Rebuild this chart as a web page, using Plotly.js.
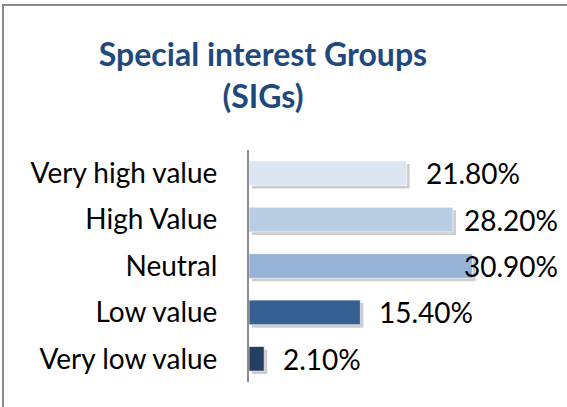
<!DOCTYPE html>
<html>
<head>
<meta charset="utf-8">
<script src="https://cdn.plot.ly/plotly-3.0.1.min.js"></script>
<style>body{margin:0;background:#fff}</style>
</head>
<body>
<div id="chart" style="width:567px;height:407px"></div>
<script>
let graph = document.getElementById('chart');

// data
let categories = ['Very high value', 'High Value', 'Neutral', 'Low value', 'Very low value'];
let values = [21.8, 28.2, 30.9, 15.4, 2.1];
let valueLabels = ['21.80%', '28.20%', '30.90%', '15.40%', '2.10%'];
let barColors = ['#dce6f2', '#b9cde5', '#95b3d7', '#366092', '#243f60'];

// frame of the plot area, in pixels
let W = 567, H = 407;
let plotLeft = 249, plotRight = 560, plotTop = 150, plotBottom = 382;
let xMax = 43;
let pxPerUnit = (plotRight - plotLeft) / xMax;
let pxPerCat = (plotBottom - plotTop) / categories.length;

// shadow offset (pixels) turned into axis units
let sx = 3 / pxPerUnit;
let sy = 3 / pxPerCat;

let labelFont = 'Lato';
let labelSize = 28;

// push a label left when it would run past the right edge of the chart
let ctx = document.createElement('canvas').getContext('2d');
ctx.font = labelSize + 'px ' + labelFont;
let labelLimit = 556;
let annotations = values.map(function(v, i) {
    let tw = ctx.measureText(valueLabels[i]).width;
    let barEnd = plotLeft + v * pxPerUnit;
    let shift = Math.min(17, labelLimit - tw - barEnd);
    return {
        xref: 'x2', yref: 'y2',
        x: v, y: categories[i],
        text: valueLabels[i],
        showarrow: false,
        xanchor: 'left',
        xshift: shift,
        font: {family: labelFont, size: labelSize, color: '#000'}
    };
});

let data = [{
    type: 'bar',
    orientation: 'h',
    x: values,
    y: categories,
    xaxis: 'x', yaxis: 'y',
    marker: {color: 'rgba(90,90,90,0.3)'},
    hoverinfo: 'skip'
}, {
    type: 'bar',
    orientation: 'h',
    x: values,
    y: categories,
    xaxis: 'x2', yaxis: 'y2',
    marker: {color: barColors, line: {color: 'rgba(255,255,255,0.6)', width: 1}}
}];

function px2paperX(p) { return (p - plotLeft) / (plotRight - plotLeft); }
function px2paperY(p) { return (plotBottom - p) / (plotBottom - plotTop); }

let layout = {
    width: W, height: H,
    margin: {l: plotLeft, r: W - plotRight, t: plotTop, b: H - plotBottom, pad: 0},
    paper_bgcolor: '#fff',
    plot_bgcolor: 'rgba(0,0,0,0)',
    showlegend: false,
    bargap: 0.47,
    title: {
        text: 'Special interest Groups<br>(SIGs)',
        font: {family: 'Lato', size: 32, color: '#1f497d', weight: 'bold'},
        xref: 'container', x: 263 / W, xanchor: 'center',
        yref: 'container', y: 1 - 66 / H, yanchor: 'middle'
    },
    xaxis: {
        range: [-sx, xMax - sx],
        visible: false, fixedrange: true
    },
    yaxis: {
        type: 'category',
        range: [categories.length - 0.5 - sy, -0.5 - sy],
        visible: false, fixedrange: true
    },
    xaxis2: {
        overlaying: 'x',
        range: [0, xMax],
        visible: false, fixedrange: true
    },
    yaxis2: {
        type: 'category',
        overlaying: 'y',
        range: [categories.length - 0.5, -0.5],
        showline: true, linecolor: '#8c8c8c', linewidth: 2,
        showgrid: false, zeroline: false,
        ticks: '',
        ticklabelstandoff: 24,
        tickfont: {family: labelFont, size: labelSize, color: '#000'},
        fixedrange: true
    },
    annotations: annotations,
    shapes: [{
        type: 'line', xref: 'paper', yref: 'paper',
        x0: px2paperX(3), x1: px2paperX(3), y0: px2paperY(4), y1: px2paperY(H + 2),
        line: {color: '#8c8c8c', width: 2}
    }, {
        type: 'line', xref: 'paper', yref: 'paper',
        x0: px2paperX(2), x1: px2paperX(W + 2), y0: px2paperY(5), y1: px2paperY(5),
        line: {color: '#8c8c8c', width: 2}
    }]
};

Plotly.newPlot(graph, data, layout, {displayModeBar: false, staticPlot: true});
</script>
</body>
</html>
